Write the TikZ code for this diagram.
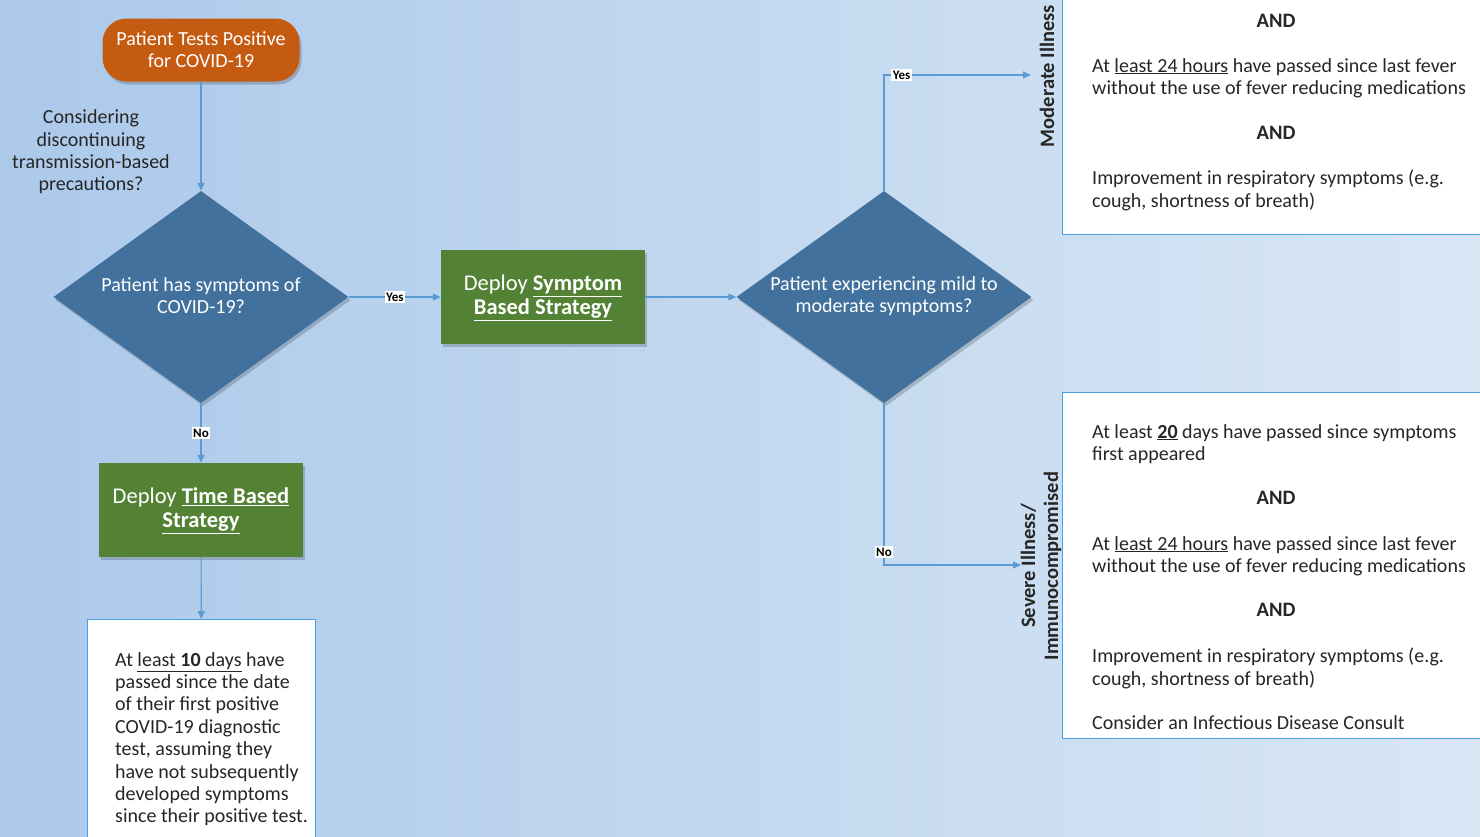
\documentclass[tikz,border=0pt]{standalone}
\usepackage{fontspec}
\setmainfont{Carlito}
\usetikzlibrary{shapes.geometric,shadows,arrows.meta}
\definecolor{bgL}{RGB}{172,201,234}
\definecolor{bgM}{RGB}{193,216,240}
\definecolor{bgR}{RGB}{217,231,245}
\definecolor{orangeC}{RGB}{197,90,17}
\definecolor{diaC}{RGB}{65,113,156}
\definecolor{greenC}{RGB}{84,130,53}
\definecolor{lineC}{RGB}{91,155,213}
\definecolor{boxC}{RGB}{70,160,225}
\definecolor{txtC}{RGB}{38,38,38}
\newcommand{\fs}[2]{\fontsize{#1}{#2}\selectfont}
\begin{document}
\begin{tikzpicture}[x=1pt,y=-1pt,
 shd/.style={drop shadow={shadow xshift=2pt,shadow yshift=-3pt,opacity=0.18,fill=black}},
 startbox/.style={fill=orangeC, rounded corners=24pt, minimum width=197pt, minimum height=63pt, text=white, align=center, font=\fs{20}{22}, inner sep=0pt, shd},
 dia/.style={diamond, fill=diaC, minimum width=295pt, minimum height=212pt, inner sep=0pt, shd},
 diatext/.style={text=white, align=center, font=\fs{20}{22}, inner sep=0pt},
 greenbox/.style={fill=greenC, minimum width=204pt, minimum height=94pt, text=white, align=center, font=\fs{22.5}{24}, inner sep=0pt, shd},
 gtext/.style={text=white, align=center, font=\fs{22.5}{24}, inner sep=0pt},
 wbox/.style={draw=boxC, line width=1.2pt, fill=white, anchor=north west, inner sep=0pt},
 body/.style={text=txtC, align=left, font=\fs{20}{22.4}, inner sep=0pt, anchor=north west},
 andtxt/.style={text=txtC, font=\bfseries\fs{20.5}{22}, inner sep=0pt},
 side/.style={text=black!85, font=\bfseries\fs{20.5}{23}, rotate=90, align=center, inner sep=0pt},
 note/.style={text=txtC, align=center, font=\fs{20}{22.4}, inner sep=0pt},
 lbl/.style={fill=white, text=black, font=\bfseries\fs{13}{14}, inner sep=1.5pt},
 conn/.style={draw=lineC, line width=1.1pt, -{Triangle[length=8pt,width=7pt]}}
]
\useasboundingbox (0,0) rectangle (1480,836);
\clip (0,0) rectangle (1480,836);
\shade[left color=bgL, middle color=bgM, right color=bgR] (0,0) rectangle (1480,836);

% nodes
\node[startbox] (start) at (201,50) {Patient Tests Positive\\for COVID-19};
\node[note] (consider) at (91,152) {Considering\\discontinuing\\transmission-based\\precautions?};
\node[dia] (d1) at (201,297) {};
\node[diatext] (d1t) at (201,296) {Patient has symptoms of\\COVID-19?};
\node[greenbox] (g1) at (543,297) {};
\node[gtext] (g1t) at (543,298) {Deploy \underline{\textbf{Symptom}}\\\underline{\textbf{Based Strategy}}};
\node[greenbox] (g2) at (201,510) {};
\node[gtext] (g2t) at (201,511) {Deploy \underline{\textbf{Time Based}}\\\underline{\textbf{Strategy}}};
\node[dia] (d2) at (884,297) {};
\node[diatext] (d2t) at (884,296) {Patient experiencing mild to\\moderate symptoms?};

% white boxes
\node[wbox, minimum width=228pt, minimum height=240pt] (b5) at (87,619) {};
\node[body] (t5) at (115,652) {At \underline{least \textbf{10} days} have\\passed since the date\\of their first positive\\COVID-19 diagnostic\\test, assuming they\\have not subsequently\\developed symptoms\\since their positive test.};

\node[wbox, minimum width=440pt, minimum height=260pt] (b3) at (1062,-26) {};
\node[andtxt] (m1) at (1276,21) {AND};
\node[body] (m2) at (1092,58) {At \underline{least 24 hours} have passed since last fever\\without the use of fever reducing medications};
\node[andtxt] (m3) at (1276,133) {AND};
\node[body] (m4) at (1092,170) {Improvement in respiratory symptoms (e.g.\\cough, shortness of breath)};

\node[wbox, minimum width=440pt, minimum height=346pt] (b4) at (1062,392) {};
\node[body] (s1) at (1092,424) {At least \underline{\textbf{20}} days have passed since symptoms\\first appeared};
\node[andtxt] (s2) at (1276,498) {AND};
\node[body] (s3) at (1092,536) {At \underline{least 24 hours} have passed since last fever\\without the use of fever reducing medications};
\node[andtxt] (s4) at (1276,610) {AND};
\node[body] (s5) at (1092,648) {Improvement in respiratory symptoms (e.g.\\cough, shortness of breath)};
\node[body] (s6) at (1092,715) {Consider an Infectious Disease Consult};

\node[side] (modlbl) at (1047,76) {Moderate Illness};
\node[side] (sevlbl) at (1041,566) {Severe Illness/\\Immunocompromised};

% connectors
\coordinate (modin) at (1031,75);
\coordinate (sevin) at (1021,565);
\draw[conn] (start) -- (d1);
\draw[conn] (d1) -- node[lbl]{Yes} (g1);
\draw[conn] (g1) -- (d2);
\draw[conn] (d1) -- node[lbl]{No} (g2);
\draw[conn] (g2) -- (b5);
\draw[conn] (d2.north) |- node[lbl,pos=0.56]{Yes} (modin);
\draw[conn] (d2.south) |- node[lbl,pos=0.46]{No} (sevin);
\end{tikzpicture}
\end{document}
